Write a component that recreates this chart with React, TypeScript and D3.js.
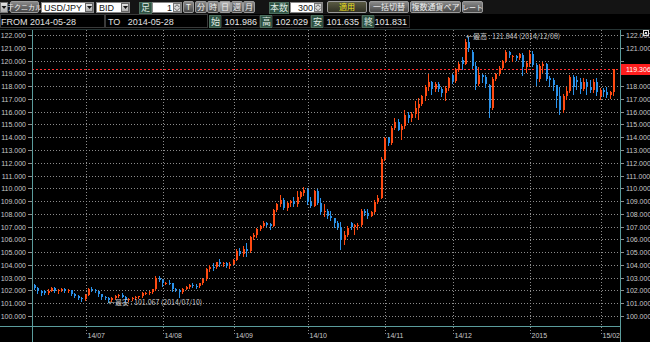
import React from "react";
import * as d3 from "d3";

// ---------- data ----------
const dates = [
  "2014-06-09","2014-06-10","2014-06-11","2014-06-12","2014-06-13","2014-06-16","2014-06-17","2014-06-18","2014-06-19","2014-06-20","2014-06-23","2014-06-24","2014-06-25","2014-06-26","2014-06-27","2014-06-30",
  "2014-07-01","2014-07-02","2014-07-03","2014-07-04","2014-07-07","2014-07-08","2014-07-09","2014-07-10","2014-07-11","2014-07-14","2014-07-15","2014-07-16","2014-07-17","2014-07-18","2014-07-21","2014-07-22","2014-07-23","2014-07-24","2014-07-25","2014-07-28","2014-07-29","2014-07-30","2014-07-31",
  "2014-08-01","2014-08-04","2014-08-05","2014-08-06","2014-08-07","2014-08-08","2014-08-11","2014-08-12","2014-08-13","2014-08-14","2014-08-15","2014-08-18","2014-08-19","2014-08-20","2014-08-21","2014-08-22","2014-08-25","2014-08-26","2014-08-27","2014-08-28","2014-08-29",
  "2014-09-01","2014-09-02","2014-09-03","2014-09-04","2014-09-05","2014-09-08","2014-09-09","2014-09-10","2014-09-11","2014-09-12","2014-09-15","2014-09-16","2014-09-17","2014-09-18","2014-09-19","2014-09-22","2014-09-23","2014-09-24","2014-09-25","2014-09-26","2014-09-29","2014-09-30",
  "2014-10-01","2014-10-02","2014-10-03","2014-10-06","2014-10-07","2014-10-08","2014-10-09","2014-10-10","2014-10-13","2014-10-14","2014-10-15","2014-10-16","2014-10-17","2014-10-20","2014-10-21","2014-10-22","2014-10-23","2014-10-24","2014-10-27","2014-10-28","2014-10-29","2014-10-30","2014-10-31",
  "2014-11-03","2014-11-04","2014-11-05","2014-11-06","2014-11-07","2014-11-10","2014-11-11","2014-11-12","2014-11-13","2014-11-14","2014-11-17","2014-11-18","2014-11-19","2014-11-20","2014-11-21","2014-11-24","2014-11-25","2014-11-26","2014-11-27","2014-11-28",
  "2014-12-01","2014-12-02","2014-12-03","2014-12-04","2014-12-05","2014-12-08","2014-12-09","2014-12-10","2014-12-11","2014-12-12","2014-12-15","2014-12-16","2014-12-17","2014-12-18","2014-12-19","2014-12-22","2014-12-23","2014-12-24","2014-12-25","2014-12-26","2014-12-29","2014-12-30","2014-12-31",
  "2015-01-02","2015-01-05","2015-01-06","2015-01-07","2015-01-08","2015-01-09","2015-01-12","2015-01-13","2015-01-14","2015-01-15","2015-01-16","2015-01-19","2015-01-20","2015-01-21","2015-01-22","2015-01-23","2015-01-26","2015-01-27","2015-01-28","2015-01-29","2015-01-30",
  "2015-02-02","2015-02-03","2015-02-04","2015-02-05","2015-02-06",
];

const opens = [
  102.62,102.45,102.22,101.95,101.92,101.80,101.98,102.22,101.95,102.05,102.12,101.92,102.02,101.75,101.58,101.38,
  101.30,101.68,102.10,102.05,101.95,101.70,101.45,101.38,101.22,101.38,101.58,101.62,101.52,101.25,101.35,101.40,101.48,101.55,101.78,101.82,101.88,102.08,102.95,
  102.80,102.55,102.62,102.58,102.10,102.05,101.85,102.15,102.28,102.45,102.38,102.36,102.56,102.90,103.70,103.85,103.82,104.20,104.05,104.15,103.92,
  104.10,104.40,105.12,104.82,105.28,105.05,106.20,106.35,106.80,107.08,107.30,107.20,107.08,108.30,108.75,109.05,108.45,108.88,109.02,108.75,109.30,109.60,
  109.85,108.95,108.65,109.75,108.85,108.15,108.20,107.85,107.65,107.30,106.95,105.95,106.35,107.30,106.98,107.10,107.15,108.25,108.10,107.85,108.15,108.90,109.25,
  112.30,113.90,113.55,114.70,115.20,114.60,114.85,115.75,115.50,115.80,116.30,116.60,117.20,117.95,118.30,117.75,118.20,117.80,117.45,117.85,
  118.90,118.40,119.25,120.05,119.75,121.45,120.70,119.60,118.20,118.85,118.70,118.05,116.30,118.55,118.95,119.45,119.95,120.70,120.30,120.38,120.20,120.45,119.50,
  119.80,120.55,119.65,118.55,119.55,119.70,118.65,118.45,118.05,117.25,116.10,117.20,117.60,118.75,118.50,118.30,117.75,118.35,117.95,117.70,118.35,
  117.20,117.70,117.55,117.30,117.55,
];

const highs = [
  102.75,102.50,102.30,102.05,102.05,102.08,102.30,102.25,102.12,102.18,102.20,102.10,102.05,101.80,101.62,101.45,
  101.75,102.20,102.28,102.12,101.98,101.75,101.58,101.52,101.45,101.65,101.72,101.78,101.55,101.42,101.48,101.55,101.60,101.85,101.88,101.95,102.12,103.10,103.12,
  102.88,102.70,102.78,102.62,102.18,102.12,102.22,102.35,102.52,102.55,102.48,102.62,102.95,103.78,103.98,104.18,104.25,104.48,104.22,104.20,104.22,
  104.50,105.25,105.30,105.45,105.70,106.30,106.50,106.90,107.15,107.40,107.38,107.25,108.40,108.85,109.45,109.22,108.95,109.10,109.30,109.75,109.80,110.09,
  110.00,109.30,109.90,109.95,109.20,108.75,108.35,108.25,107.70,107.45,107.35,106.65,107.05,107.38,107.20,107.25,108.35,108.40,108.35,108.25,109.05,109.50,112.45,
  114.05,114.05,114.85,115.50,115.45,115.00,116.10,116.00,115.95,116.85,117.05,117.30,118.05,118.95,118.40,118.35,118.30,117.95,118.00,118.75,
  118.95,119.40,119.90,120.25,121.70,121.844,120.80,119.90,119.50,118.95,118.90,118.20,118.70,119.05,119.55,120.05,120.80,120.78,120.45,120.45,120.60,120.62,120.00,
  120.80,120.75,119.80,119.75,119.85,119.80,118.80,118.60,118.10,117.90,117.35,117.90,118.85,118.85,118.80,118.60,118.60,118.55,118.45,118.55,118.60,
  117.85,117.85,117.90,117.65,119.35,
];

const lows = [
  102.38,102.15,101.80,101.65,101.72,101.75,101.92,101.88,101.80,101.92,101.85,101.85,101.62,101.45,101.30,101.20,
  101.28,101.62,101.95,101.88,101.58,101.35,101.30,101.067,101.15,101.30,101.48,101.45,101.12,101.18,101.25,101.32,101.42,101.50,101.70,101.75,101.82,102.02,102.72,
  102.35,102.48,102.50,101.95,101.95,101.51,101.82,102.10,102.22,102.30,102.20,102.30,102.50,102.85,103.55,103.60,103.78,103.95,103.88,103.85,103.72,
  104.08,104.35,104.75,104.70,104.70,105.00,106.00,106.20,106.70,106.98,107.05,106.85,107.05,108.20,108.60,108.40,108.30,108.60,108.60,108.60,109.25,109.50,
  108.80,108.55,108.60,108.75,108.00,107.80,107.70,107.55,106.95,106.80,105.23,105.60,106.30,106.85,106.40,106.85,107.05,107.90,107.70,107.80,108.10,108.85,109.20,
  112.25,113.40,113.45,114.65,114.55,113.85,114.75,115.20,115.30,115.60,115.45,116.50,116.90,117.70,117.40,117.60,117.60,117.20,116.95,117.70,
  118.25,118.30,119.20,119.30,119.70,120.75,119.45,117.80,118.10,118.30,117.95,115.57,116.20,118.45,118.85,119.35,119.90,120.28,120.00,120.05,120.10,118.90,119.10,
  119.60,119.55,118.05,118.40,119.10,118.45,118.00,117.70,116.40,115.85,116.00,117.00,117.55,117.40,117.75,117.45,117.70,117.40,117.55,117.50,117.30,
  117.00,117.20,117.15,117.05,117.30,
];

const closes = [
  102.45,102.22,101.95,101.78,101.80,101.98,102.22,101.95,102.05,102.12,101.92,102.02,101.75,101.58,101.38,101.30,
  101.68,102.10,102.05,101.95,101.70,101.45,101.38,101.22,101.38,101.58,101.62,101.52,101.25,101.35,101.40,101.48,101.55,101.78,101.82,101.88,102.08,102.95,102.80,
  102.55,102.62,102.58,102.10,102.05,101.85,102.15,102.28,102.45,102.38,102.36,102.56,102.90,103.70,103.85,103.82,104.20,104.05,104.15,103.92,104.10,
  104.40,105.12,104.82,105.28,105.05,106.20,106.35,106.80,107.08,107.30,107.15,107.08,108.30,108.75,109.05,108.45,108.88,109.02,108.75,109.30,109.70,109.85,
  108.95,108.65,109.75,108.85,108.15,108.20,107.85,107.65,107.30,106.95,105.95,106.35,106.90,106.98,107.10,107.15,108.25,108.10,107.85,108.15,108.90,109.25,112.30,
  113.90,113.55,114.70,115.20,114.60,114.85,115.75,115.50,115.80,116.30,116.60,117.20,117.95,118.30,117.75,118.20,117.80,117.45,117.85,118.65,
  118.40,119.25,119.75,119.75,121.45,120.95,119.60,118.20,118.85,118.70,118.15,116.30,118.55,118.95,119.45,119.95,120.70,120.40,120.38,120.20,120.50,119.50,119.80,
  120.55,119.65,118.55,119.55,119.70,118.55,118.45,118.05,117.25,116.10,117.20,117.60,118.75,117.90,118.30,117.75,118.35,117.95,117.70,118.35,117.50,
  117.70,117.55,117.30,117.55,119.306,
];

const yTicks = [100,101,102,103,104,105,106,107,108,109,110,111,112,113,114,115,116,117,118,119,120,121,122];
const monthTickDates = ["2014-07-01","2014-08-01","2014-09-01","2014-10-01","2014-11-03","2014-12-01","2015-01-02","2015-02-02"];
const monthTickLabels = ["14/07","14/08","14/09","14/10","14/11","14/12","2015","15/02"];

const highNote = { date: "2014-12-08", value: 121.844, text: "←最高 : 121.844 (2014/12/08)" };
const lowNote = { date: "2014-07-10", value: 101.067, text: "←最安 : 101.067 (2014/07/10)" };

const headerStats = [
  { label: "始", value: "101.986" },
  { label: "高", value: "102.029" },
  { label: "安", value: "101.635" },
  { label: "終", value: "101.831" },
];

// ---------- style ----------
const W = 650, H = 342;
const UP = "#ff4a12";
const DOWN = "#2a92ea";
const AXIS = "#5a9c9c";
const GRID = "#8c8c8c";
const TXT = "#c8c8c8";
const JP = "'Noto Sans CJK JP', 'Noto Sans', sans-serif";
const NUM = "'Liberation Sans', Arial, sans-serif";

const PLOT_L = 32, PLOT_R = 620, PLOT_T = 30, PLOT_B = 326;
const STEP = 3.367;

function GrayBtn({ x, w, label, fill = "url(#btnGrad)", color = "#f0f0f0", fs = 8 }: any) {
  return (
    <g>
      <rect x={x + 0.5} y={1.5} width={w} height={11} rx={1.5} fill={fill} stroke="#9a9a9a" strokeWidth={1} />
      <text x={x + w / 2 + 0.5} y={10.2} textAnchor="middle" fontSize={fs} fill={color} fontFamily={JP}>{label}</text>
    </g>
  );
}

function SelectBox({ x, w, label }: any) {
  return (
    <g>
      <rect x={x + 0.5} y={2.5} width={w} height={10} fill="#ffffff" stroke="#888" />
      <text x={x + 3} y={10.5} fontSize={9} fill="#111" fontFamily={NUM}>{label}</text>
      <rect x={x + w - 7.5} y={3.5} width={7} height={8} fill="url(#btnLight)" stroke="#666" />
      <path d={`M${x + w - 6} ${6}h5l-2.5 3z`} fill="#111" />
    </g>
  );
}

function SpinInput({ x, w, label }: any) {
  return (
    <g>
      <rect x={x + 0.5} y={2.5} width={w} height={10} fill="#ffffff" stroke="#888" />
      <text x={x + w - 9} y={10.5} textAnchor="end" fontSize={9} fill="#111" fontFamily={NUM}>{label}</text>
      <rect x={x + w - 7.5} y={3.5} width={7} height={8} fill="#d8d8d8" stroke="#777" />
      <path d={`M${x + w - 6.5} 7.2l2.5-2.5l2.5 2.5M${x + w - 6.5} 8.2l2.5 2.5l2.5-2.5`} fill="none" stroke="#444" strokeWidth={0.8} />
    </g>
  );
}

function GreenLabel({ x, w, y, h, label }: any) {
  return (
    <g>
      <rect x={x + 0.5} y={y + 0.5} width={w} height={h} fill="#2f5242" stroke="#4b6e5d" />
      <text x={x + w / 2 + 0.5} y={y + h - 2.2} textAnchor="middle" fontSize={9} fill="#dfe9e3" fontFamily={JP}>{label}</text>
    </g>
  );
}

export default function App() {
  const x = d3.scaleBand<string>().domain(dates).range([30, 30 + dates.length * STEP]).padding(0);
  const y = d3.scaleLinear().domain([100, 122]).range([316, 35]);
  const cx = (d: string) => (x(d) as number) + x.bandwidth() / 2;
  const py = (v: number) => Math.round(y(v));

  const candles = dates.map((d, i) => {
    const o = opens[i], h = highs[i], l = lows[i], c = closes[i];
    const up = c >= o;
    const col = up ? UP : DOWN;
    const xc = Math.round(cx(d));
    const top = py(Math.max(o, c));
    const bot = py(Math.min(o, c));
    return (
      <g key={d}>
        <line x1={xc - 0.5} x2={xc - 0.5} y1={py(h)} y2={py(l) + 1} stroke={col} strokeWidth={1} />
        <rect x={xc - 1} y={top} width={2} height={Math.max(1, bot - top)} fill={col} />
      </g>
    );
  });

  const last = closes[closes.length - 1];
  const lastY = Math.round(y(last)) + 0.5;

  const monthX = monthTickDates.map((d) => Math.round(cx(d)) + 0.5);

  // header positions
  const statX = [209, 260, 311, 362];
  const statW = [51, 51, 51, 48];

  return (
    <div style={{ position: "fixed", left: 0, top: 0, width: W, height: H, background: "#000" }}>
      <svg width={W} height={H} viewBox={`0 0 ${W} ${H}`} style={{ display: "block" }}>
        <defs>
          <linearGradient id="btnGrad" x1="0" y1="0" x2="0" y2="1">
            <stop offset="0" stopColor="#8c8c8c" />
            <stop offset="1" stopColor="#454545" />
          </linearGradient>
          <linearGradient id="btnLight" x1="0" y1="0" x2="0" y2="1">
            <stop offset="0" stopColor="#e8e8e8" />
            <stop offset="1" stopColor="#a8a8a8" />
          </linearGradient>
          <linearGradient id="btnSel" x1="0" y1="0" x2="0" y2="1">
            <stop offset="0" stopColor="#b8b8b8" />
            <stop offset="1" stopColor="#767676" />
          </linearGradient>
          <linearGradient id="btnApply" x1="0" y1="0" x2="0" y2="1">
            <stop offset="0" stopColor="#5c5c44" />
            <stop offset="1" stopColor="#2e2e22" />
          </linearGradient>
          <clipPath id="plotClip">
            <rect x={PLOT_L} y={PLOT_T} width={PLOT_R - PLOT_L} height={PLOT_B - PLOT_T} />
          </clipPath>
        </defs>

        <rect x={0} y={0} width={W} height={H} fill="#000" />

        {/* ---------- header row 1 ---------- */}
        <rect x={0} y={0} width={W} height={14} fill="#141414" />
        <rect x={0.5} y={2.5} width={7} height={10} fill="url(#btnLight)" stroke="#777" />
        <path d="M1.5 6h5l-2.5 3z" fill="#111" />
        <GrayBtn x={10} w={28} label="テクニカル" fs={7} />
        <SelectBox x={41} w={52} label="USD/JPY" />
        <SelectBox x={96} w={33} label="BID" />
        <GreenLabel x={139} w={12} y={2} h={11} label="足" />
        <SpinInput x={152} w={29} label="1" />
        <GrayBtn x={183} w={10} label="T" />
        <GrayBtn x={195} w={11} label="分" />
        <GrayBtn x={207} w={11} label="時" />
        <GrayBtn x={219} w={11} label="日" fill="url(#btnSel)" />
        <GrayBtn x={231} w={11} label="週" />
        <GrayBtn x={243} w={11} label="月" />
        <GreenLabel x={269} w={19} y={2} h={11} label="本数" />
        <SpinInput x={290} w={32} label="300" />
        <GrayBtn x={327} w={39} label="適用" fill="url(#btnApply)" color="#f2e620" />
        <GrayBtn x={369} w={39} label="一括切替" />
        <GrayBtn x={410} w={50} label="複数通貨ペア" />
        <GrayBtn x={462} w={20} label="レート" fs={7} />

        {/* ---------- header row 2 ---------- */}
        <rect x={0.5} y={14.5} width={104} height={13} fill="#000" stroke="#3a3a3a" />
        <text x={1} y={24.5} fontSize={9} fill="#e0e0e0" fontFamily={NUM}>FROM 2014-05-28</text>
        <rect x={105.5} y={14.5} width={102} height={13} fill="#000" stroke="#3a3a3a" />
        <text x={108} y={24.5} fontSize={9} fill="#e0e0e0" fontFamily={NUM} xmlSpace="preserve">TO   2014-05-28</text>
        {headerStats.map((s, i) => (
          <g key={s.label}>
            <GreenLabel x={statX[i]} w={12} y={15} h={12} label={s.label} />
            <rect x={statX[i] + 12.5} y={15.5} width={statW[i] - 13} height={12} fill="#050505" stroke="#2a2a2a" />
            <text x={statX[i] + statW[i] - 3} y={24.5} textAnchor="end" fontSize={9} fill="#e6e6e6" fontFamily={NUM}>{s.value}</text>
          </g>
        ))}
        <line x1={0} x2={W} y1={29.5} y2={29.5} stroke="#263434" />

        {/* ---------- grid ---------- */}
        {yTicks.map((t) => {
          const yy = py(t) + 0.5;
          const hiddenRight = Math.abs(yy - lastY) < 9;
          return (
            <g key={t}>
              <line x1={PLOT_L} x2={PLOT_R} y1={yy} y2={yy} stroke={GRID} strokeDasharray="1,2" />
              <line x1={28} x2={PLOT_L} y1={yy} y2={yy} stroke={GRID} />
              <line x1={PLOT_R} x2={PLOT_R + 4} y1={yy} y2={yy} stroke={GRID} />
              <text x={26} y={yy + 2.5} textAnchor="end" fontSize={7} fill={TXT} fontFamily={NUM}>{t.toFixed(3)}</text>
              {!hiddenRight && (
                <text x={PLOT_R + 6} y={yy + 2.5} fontSize={7} fill={TXT} fontFamily={NUM}>{t.toFixed(3)}</text>
              )}
            </g>
          );
        })}
        {monthX.map((mx, i) => (
          <g key={monthTickLabels[i]}>
            <line x1={mx} x2={mx} y1={PLOT_T} y2={335} stroke={GRID} strokeDasharray="1,2" />
            <text x={mx + 1} y={338} fontSize={7} fill={TXT} fontFamily={NUM}>{monthTickLabels[i]}</text>
          </g>
        ))}

        {/* ---------- current price ---------- */}
        <line x1={PLOT_L} x2={PLOT_R} y1={lastY} y2={lastY} stroke="#ff3030" strokeDasharray="2,2" />

        {/* ---------- candles ---------- */}
        <g clipPath="url(#plotClip)">{candles}</g>

        {/* ---------- annotations ---------- */}
        <text x={Math.round(cx(highNote.date)) - 3} y={y(highNote.value) + 2} fontSize={7} fill={TXT} fontFamily={JP}>{highNote.text}</text>
        <text x={Math.round(cx(lowNote.date)) - 1} y={y(lowNote.value) + 2.5} fontSize={7} fill={TXT} fontFamily={JP}>{lowNote.text}</text>

        {/* ---------- axes ---------- */}
        <line x1={PLOT_L + 0.5} x2={PLOT_L + 0.5} y1={PLOT_T} y2={H} stroke={AXIS} />
        <line x1={PLOT_R + 0.5} x2={PLOT_R + 0.5} y1={PLOT_T} y2={H} stroke={AXIS} />
        <line x1={0} x2={PLOT_R} y1={PLOT_B + 0.5} y2={PLOT_B + 0.5} stroke={AXIS} />

        {/* last price label */}
        <rect x={PLOT_R + 1} y={lastY - 5.5} width={W - PLOT_R - 1} height={11} fill="#ff1e1e" />
        <text x={PLOT_R + 6} y={lastY + 2.5} fontSize={7} fill="#ffffff" fontFamily={NUM}>{last.toFixed(3)}</text>

        {/* corner icon */}
        <rect x={643.5} y={30.5} width={5} height={5} fill="none" stroke="#dddddd" />
        <rect x={645} y={32} width={2} height={2} fill="#dddddd" />
      </svg>
    </div>
  );
}
